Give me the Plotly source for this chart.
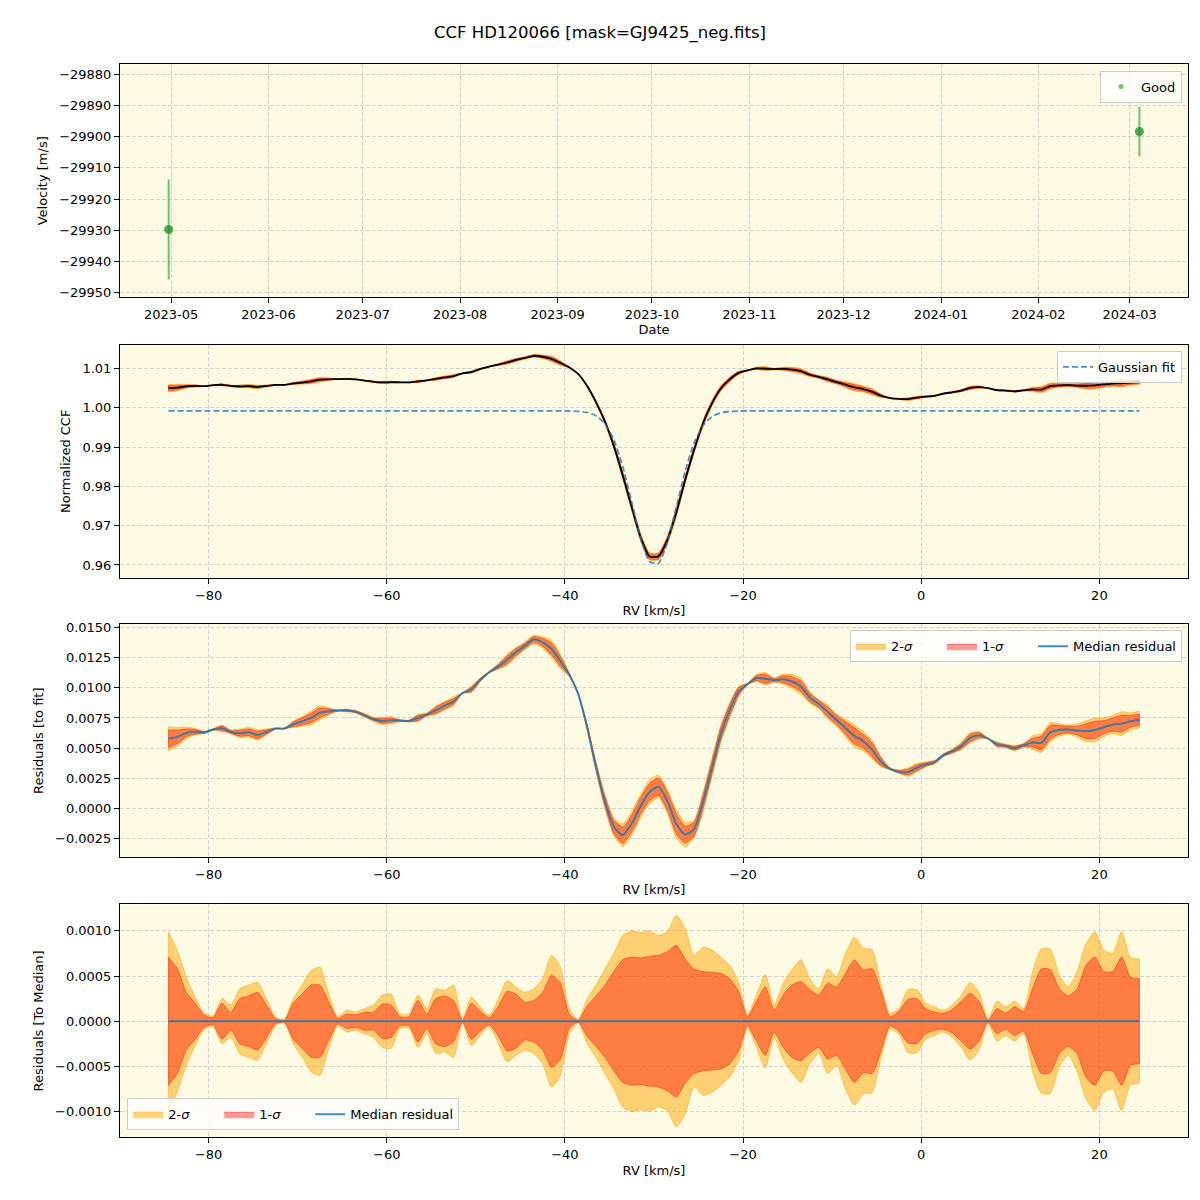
import numpy as np
import plotly.graph_objects as go

# ---------------- data ----------------
obs_dates = ["2023-04-30 06:00", "2024-03-04 03:00"]
obs_vel = [-29929.8, -29898.3]
obs_err = [16.1, 8.0]

rv = np.arange(-84.5, 24.51, 1.0)  # RV grid [km/s]

gauss_fit = ([0.99922] * 44 +
             [0.99922, 0.99919, 0.99911, 0.99882, 0.99797, 0.99593, 0.99181,
              0.98501, 0.97599, 0.96687, 0.96083, 0.96040, 0.96577, 0.97465,
              0.98385, 0.99102, 0.99550, 0.99778, 0.99874, 0.99909, 0.99919] +
             [0.99922] * 45)

median_resid = [
    0.00579, 0.00593, 0.00626, 0.00636, 0.00630, 0.00654, 0.00665, 0.00634, 0.00623, 0.00631,
    0.00610, 0.00634, 0.00662, 0.00662, 0.00698, 0.00722, 0.00750, 0.00794, 0.00805, 0.00811,
    0.00813, 0.00802, 0.00772, 0.00739, 0.00725, 0.00731, 0.00728, 0.00725, 0.00750, 0.00778,
    0.00813, 0.00852, 0.00888, 0.00957, 0.00987, 0.01067, 0.01130,
    0.01177, 0.01232, 0.01296, 0.01348, 0.01403, 0.01378, 0.01323, 0.01219, 0.01108, 0.00948,
    0.00673, 0.00342, 0.00055, -0.00155, -0.00223, -0.00126, 0.00020, 0.00135, 0.00180, 0.00060,
    -0.00128, -0.00218, -0.00172, 0.00052, 0.00337, 0.00618, 0.00815, 0.00970, 0.01031, 0.01081,
    0.01075, 0.01064, 0.01072, 0.01053, 0.01012,
    0.00920, 0.00866, 0.00800, 0.00733, 0.00667, 0.00601, 0.00557, 0.00485, 0.00386, 0.00328,
    0.00304, 0.00301, 0.00337, 0.00364, 0.00383, 0.00441, 0.00474, 0.00516, 0.00585, 0.00607,
    0.00579, 0.00530, 0.00518, 0.00499, 0.00524, 0.00546, 0.00543, 0.00632, 0.00651, 0.00654,
    0.00645, 0.00640, 0.00651, 0.00673, 0.00695, 0.00703, 0.00722, 0.00736]

sigma1 = [
    0.00071, 0.00058, 0.00032, 0.00020, 0.00007, 0.00004, 0.00020, 0.00010, 0.00025, 0.00028,
    0.00032, 0.00018, 0.00003, 0.00001, 0.00020, 0.00030, 0.00040, 0.00040, 0.00021, 0.00003,
    0.00008, 0.00007, 0.00010, 0.00010, 0.00019, 0.00018, 0.00005, 0.00005, 0.00023, 0.00008,
    0.00025, 0.00028, 0.00023, 0.00001, 0.00020, 0.00011, 0.00004, 0.00016, 0.00033, 0.00030,
    0.00021, 0.00023, 0.00032, 0.00051, 0.00042, 0.00008, 0.00001, 0.00017, 0.00028, 0.00040,
    0.00055, 0.00068, 0.00071, 0.00070, 0.00072, 0.00073, 0.00077, 0.00084, 0.00069, 0.00058,
    0.00055, 0.00054, 0.00053, 0.00047, 0.00033, 0.00005, 0.00022, 0.00038, 0.00012, 0.00029,
    0.00040, 0.00044, 0.00035, 0.00029, 0.00042, 0.00038, 0.00053, 0.00068, 0.00057, 0.00058,
    0.00033, 0.00005, 0.00011, 0.00024, 0.00025, 0.00014, 0.00010, 0.00009, 0.00013, 0.00022,
    0.00031, 0.00022, 0.00001, 0.00014, 0.00009, 0.00016, 0.00011, 0.00036, 0.00058, 0.00057,
    0.00036, 0.00028, 0.00036, 0.00062, 0.00071, 0.00055, 0.00055, 0.00071, 0.00049, 0.00047]

sigma2 = [
    0.00099, 0.00078, 0.00049, 0.00027, 0.00009, 0.00006, 0.00025, 0.00018, 0.00036, 0.00040,
    0.00043, 0.00025, 0.00005, 0.00002, 0.00025, 0.00040, 0.00056, 0.00060, 0.00030, 0.00005,
    0.00012, 0.00010, 0.00014, 0.00018, 0.00029, 0.00030, 0.00008, 0.00008, 0.00029, 0.00014,
    0.00036, 0.00034, 0.00040, 0.00002, 0.00027, 0.00016, 0.00006, 0.00024, 0.00045, 0.00038,
    0.00032, 0.00036, 0.00047, 0.00073, 0.00060, 0.00014, 0.00002, 0.00025, 0.00040, 0.00058,
    0.00075, 0.00095, 0.00100, 0.00098, 0.00100, 0.00095, 0.00099, 0.00117, 0.00103, 0.00073,
    0.00082, 0.00079, 0.00071, 0.00062, 0.00044, 0.00007, 0.00029, 0.00052, 0.00018, 0.00042,
    0.00057, 0.00068, 0.00047, 0.00036, 0.00058, 0.00049, 0.00075, 0.00093, 0.00081, 0.00079,
    0.00040, 0.00009, 0.00014, 0.00035, 0.00035, 0.00020, 0.00016, 0.00012, 0.00018, 0.00029,
    0.00043, 0.00032, 0.00002, 0.00022, 0.00016, 0.00022, 0.00014, 0.00055, 0.00080, 0.00080,
    0.00051, 0.00038, 0.00055, 0.00086, 0.00099, 0.00079, 0.00075, 0.00099, 0.00071, 0.00069]

assert len(rv) == len(gauss_fit) == len(median_resid) == len(sigma1) == len(sigma2) == 110

fit = np.array(gauss_fit)
res = np.array(median_resid)
s1 = np.array(sigma1)
s2 = np.array(sigma2)
ccf = fit + res

# ---------------- styling ----------------
FONT = "DejaVu Sans"
BG = "#FDFBE3"
C2 = "rgba(255,165,0,0.5)"
C1 = "rgba(255,0,0,0.4)"
BLUE = "rgba(31,119,180,0.85)"
GRID = "#d2d2d2"
SM = 0.6
PAD = "\u00a0" * 6

fig = go.Figure()


def band(center, half, color, name, xa, ya, legend, show):
    lo = center - half
    hi = center + half
    fig.add_trace(go.Scatter(
        x=rv, y=lo, mode="lines",
        line=dict(color=color, width=1, shape="spline", smoothing=SM),
        xaxis=xa, yaxis=ya, showlegend=False, hoverinfo="skip"))
    fig.add_trace(go.Scatter(
        x=rv, y=hi, mode="lines", fill="tonexty", fillcolor=color,
        line=dict(color=color, width=1, shape="spline", smoothing=SM),
        name=name, xaxis=xa, yaxis=ya, legend=legend, showlegend=show,
        hoverinfo="skip"))
    # closing edges at both ends, as in the original polygon
    fig.add_trace(go.Scatter(
        x=[rv[0], rv[0], None, rv[-1], rv[-1]],
        y=[lo[0], hi[0], None, lo[-1], hi[-1]], mode="lines",
        line=dict(color=color, width=1), xaxis=xa, yaxis=ya,
        showlegend=False, hoverinfo="skip"))


# Panel 1: velocities
fig.add_trace(go.Scatter(
    x=obs_dates, y=obs_vel, mode="markers", name="Good",
    marker=dict(color="rgba(30,140,30,0.75)", size=9),
    error_y=dict(type="data", array=obs_err, color="rgba(44,160,44,0.65)",
                 thickness=2, width=0),
    xaxis="x", yaxis="y", showlegend=False))
# legend-only handle with the small marker used in the original legend
fig.add_trace(go.Scatter(
    x=[None], y=[None], mode="markers", name="Good",
    marker=dict(color="rgba(44,160,44,0.65)", size=5),
    xaxis="x", yaxis="y", legend="legend"))

# Panel 2: CCF
band(ccf, s2, C2, "2-σ", "x2", "y2", "legend2", False)
band(ccf, s1, C1, "1-σ", "x2", "y2", "legend2", False)
fig.add_trace(go.Scatter(x=rv, y=ccf, mode="lines", name="CCF",
                         line=dict(color="black", width=1.8, shape="spline", smoothing=SM),
                         xaxis="x2", yaxis="y2", showlegend=False))
fig.add_trace(go.Scatter(x=rv, y=fit, mode="lines", name="Gaussian fit",
                         line=dict(color="rgba(31,119,180,0.8)", width=1.8, dash="6px,3px",
                                   shape="spline", smoothing=SM),
                         xaxis="x2", yaxis="y2", legend="legend2"))

# Panel 3: residuals to fit
band(res, s2, C2, "2-<i>σ</i>" + PAD, "x3", "y3", "legend3", True)
band(res, s1, C1, "1-<i>σ</i>" + PAD, "x3", "y3", "legend3", True)
fig.add_trace(go.Scatter(x=rv, y=res, mode="lines", name="Median residual",
                         line=dict(color=BLUE, width=2, shape="spline", smoothing=SM),
                         xaxis="x3", yaxis="y3", legend="legend3"))

# Panel 4: residuals to median
zero = np.zeros_like(res)
band(zero, s2, C2, "2-<i>σ</i>" + PAD, "x4", "y4", "legend4", True)
band(zero, s1, C1, "1-<i>σ</i>" + PAD, "x4", "y4", "legend4", True)
fig.add_trace(go.Scatter(x=rv, y=zero, mode="lines", name="Median residual",
                         line=dict(color=BLUE, width=2),
                         xaxis="x4", yaxis="y4", legend="legend4"))

tickfont = dict(family=FONT, size=13, color="black")
titlefont = dict(family=FONT, size=13, color="black")


def axis_common():
    return dict(showline=True, mirror=True, linecolor="black", linewidth=1,
                ticks="outside", ticklen=5, tickwidth=1, tickcolor="black",
                showgrid=True, gridcolor=GRID, griddash="4px,2px", gridwidth=1,
                zeroline=False, tickfont=tickfont)


XDOM = [0.1, 0.99]
ydoms = [[0.75417, 0.94942], [0.51892, 0.71442], [0.285, 0.48], [0.05, 0.24525]]

layout = dict(
    width=1200, height=1200,
    margin=dict(l=0, r=0, t=0, b=0),
    paper_bgcolor="white", plot_bgcolor=BG,
    font=dict(family=FONT, size=13, color="black"),
    title=dict(text="CCF HD120066 [mask=GJ9425_neg.fits]", x=0.5, xanchor="center",
               y=1 - 32 / 1200, yanchor="middle",
               font=dict(family=FONT, size=16.5, color="black")),
)

layout["xaxis"] = dict(axis_common(), domain=XDOM, anchor="y", type="date",
                       range=["2023-04-14 18:00", "2024-03-19 14:00"],
                       tickformat="%Y-%m", dtick="M1", tick0="2023-05-01",
                       title=dict(text="Date", font=titlefont, standoff=4))
layout["yaxis"] = dict(axis_common(), domain=ydoms[0], anchor="x",
                       range=[-29951.6, -29876.7], dtick=10, tick0=-29880,
                       tickformat="d",
                       title=dict(text="Velocity [m/s]", font=titlefont, standoff=8))

yinfo = [
    ("Normalized CCF", [0.95671, 1.01607], 0.01, ".2f"),
    ("Residuals [to fit]", [-0.00404, 0.01527], 0.0025, ".4f"),
    ("Residuals [To Median]", [-0.001286, 0.001293], 0.0005, ".4f"),
]
for k, (ttl, rng, dt, fmt) in enumerate(yinfo, start=2):
    layout[f"xaxis{k}"] = dict(axis_common(), domain=XDOM, anchor=f"y{k}",
                               range=[-89.95, 29.95], dtick=20, tick0=0,
                               title=dict(text="RV [km/s]", font=titlefont, standoff=4))
    layout[f"yaxis{k}"] = dict(axis_common(), domain=ydoms[k - 1], anchor=f"x{k}",
                               range=rng, dtick=dt, tick0=0, tickformat=fmt,
                               title=dict(text=ttl, font=titlefont, standoff=8))

leg_common = dict(bgcolor="rgba(255,255,255,0.8)", bordercolor="#cccccc", borderwidth=1,
                  font=dict(family=FONT, size=13, color="black"), traceorder="normal")
layout["legend"] = dict(leg_common, x=0.985, y=1 - 67 / 1200, xanchor="right", yanchor="top")
layout["legend2"] = dict(leg_common, x=0.985, y=1 - 349 / 1200, xanchor="right", yanchor="top")
layout["legend3"] = dict(leg_common, x=0.985, y=1 - 630 / 1200, xanchor="right", yanchor="top",
                         orientation="h")
layout["legend4"] = dict(leg_common, x=0.106, y=1 - 1133 / 1200, xanchor="left",
                         yanchor="bottom", orientation="h")

fig.update_layout(layout)
fig.write_html("out.html")
